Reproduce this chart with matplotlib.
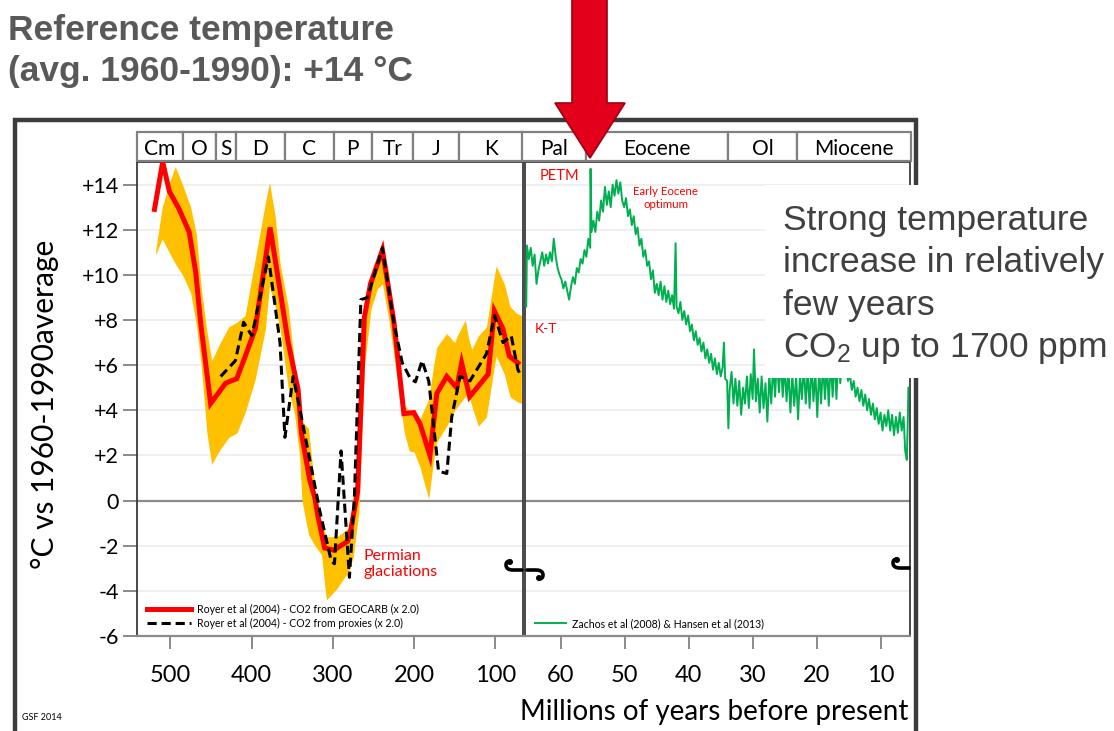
import matplotlib
matplotlib.use("Agg")
import matplotlib.pyplot as plt
from matplotlib.patches import Rectangle, Polygon, PathPatch, Ellipse
from matplotlib.path import Path

plt.rcParams['font.family'] = ['Lato', 'DejaVu Sans']
plt.rcParams['mathtext.fontset'] = 'custom'
plt.rcParams['mathtext.rm'] = 'Liberation Sans'

# ---------------- data ----------------
# Royer et al (2004) - GEOCARB (red)
geocarb_age = [519.5, 509.4, 501.2, 489, 476.8, 468.7, 462.6, 450.4, 432, 418.3, 407.7, 395.5,
               377.2, 354.9, 342.7, 338.7, 328.4, 322.3, 318.3, 310.1, 298.8, 281.7, 278, 269.5,
               261.3, 253.7, 239, 224.8, 212.6, 200.4, 192.7, 180.5, 172, 159.8, 147.6, 141.5,
               131.7, 108.9, 101.2, 90.6, 82.9, 72.3]
geocarb_temp = [12.9, 15.0, 13.7, 12.9, 11.9, 10.1, 7.85, 4.3, 5.2, 5.4, 6.4, 7.6,
                12.1, 7.0, 4.9, 3.0, 0.9, 0.15, -0.7, -2.1, -2.2, -1.8, -1.3, 0.4,
                8.1, 9.6, 11.1, 7.9, 3.85, 3.9, 3.4, 2.0, 4.75, 5.5, 5.0, 6.1,
                4.6, 5.6, 8.4, 7.6, 6.4, 6.1]

# Royer et al (2004) - proxies (black dashed)
proxy_age = [438, 419.9, 409.8, 399.6, 379.3, 365, 359, 348.8, 338.7, 330.5, 316.2, 302, 298,
             289.9, 279.6, 273.5, 265.5, 257.3, 239, 224.8, 214.6, 204.5, 198.4, 190.2, 182,
             169.9, 159.8, 153.7, 143.5, 131.3, 111, 100.9, 90.6, 80.5, 72.3, 68]
proxy_temp = [5.5, 6.2, 7.9, 7.3, 10.8, 7.0, 2.8, 5.5, 3.7, 2.2, -0.44, -2.67, -2.8,
              2.2, -3.4, 0.15, 8.9, 9.0, 11.2, 7.85, 6.1, 5.4, 5.26, 6.2, 5.3,
              1.3, 1.2, 3.7, 5.5, 5.3, 6.5, 8.2, 7.0, 7.3, 5.8, 5.5]

# Uncertainty band (orange)
band_age = [518, 510, 500, 494, 485, 475, 468, 462, 455, 449, 440, 428, 418, 408, 396, 383, 378,
            371, 365, 355, 347, 341, 338, 330, 322, 314, 308, 295, 280, 275, 268, 261, 253, 245,
            239, 232, 225, 218, 212, 206, 200, 193, 182, 176, 172, 160, 150, 147, 137, 133, 129,
            121, 111, 101, 99, 89, 82, 74, 68]
band_low = [10.9, 11.6, 10.9, 10.5, 10.0, 9.2, 7.8, 6.0, 3.0, 1.6, 2.2, 2.8, 3.0, 3.9, 5.3, 7.6, 9.5,
            8.6, 7.6, 5.0, 3.8, 2.0, 0.0, -1.5, -2.0, -2.4, -4.4, -3.9, -3.1, -2.5, -0.5, 6.0, 8.5, 9.4,
            9.6, 8.2, 6.5, 4.5, 3.0, 2.2, 2.15, 1.5, 0.07, 1.8, 2.6, 3.3, 4.0, 4.15, 4.6, 4.7, 4.2,
            3.3, 3.7, 6.0, 6.4, 5.6, 4.6, 4.4, 4.3]
band_high = [11.1, 13.0, 14.2, 14.8, 14.0, 13.0, 11.8, 9.4, 7.5, 6.2, 6.9, 7.7, 7.9, 8.2, 10.6, 13.2, 14.1,
             12.6, 10.5, 8.6, 6.0, 4.2, 3.5, 3.2, 0.5, -1.0, -1.6, -1.6, -1.2, 0.2, 2.0, 8.6, 10.0, 10.8,
             11.3, 10.2, 8.3, 6.2, 4.2, 4.0, 4.0, 3.6, 4.5, 6.0, 6.8, 7.4, 7.0, 7.3, 8.0, 7.2, 6.7,
             7.3, 7.7, 10.0, 10.4, 9.6, 8.6, 8.3, 8.2]

# Zachos et al (2008) & Hansen et al (2013) (green)
green_age = [65.4, 65.3, 65.0, 64.7, 64.4, 64.1, 63.8, 63.5, 63.2, 62.9, 62.6, 62.3, 62.0, 61.7, 61.4,
             61.1, 60.8, 60.5, 60.2, 59.9, 59.6, 59.3, 59.0, 58.7, 58.4, 58.1, 57.8, 57.5, 57.2, 56.9,
             56.6, 56.3, 56.0, 55.7, 55.4, 55.35, 55.2, 54.9, 54.6, 54.3, 54.0, 53.7, 53.4, 53.1, 52.8,
             52.5, 52.2, 51.9, 51.6, 51.3, 51.0, 50.7, 50.4, 50.1, 49.8, 49.5, 49.2, 48.9, 48.6, 48.3,
             48.0, 47.7, 47.4, 47.1, 46.8, 46.5, 46.2, 45.9, 45.6, 45.3, 45.0, 44.7, 44.4, 44.1, 43.8,
             43.5, 43.2, 42.9, 42.6, 42.3, 42.05, 41.9, 41.6, 41.3, 41.0, 40.7, 40.4, 40.1, 39.8, 39.5,
             39.2, 38.9, 38.6, 38.3, 38.0, 37.7, 37.4, 37.1, 36.8, 36.5, 36.2, 35.9, 35.6, 35.3, 35.0,
             34.7, 34.5, 34.3, 34.0, 33.8, 33.6, 33.3, 33.0, 32.7, 32.4, 32.1, 31.8, 31.5, 31.2, 30.9,
             30.6, 30.3, 30.0, 29.8, 29.5, 29.2, 28.9, 28.6, 28.3, 28.0, 27.7, 27.4, 27.1, 26.8, 26.5,
             26.2, 25.9, 25.6, 25.3, 25.0, 24.7, 24.4, 24.1, 23.8, 23.5, 23.2, 22.9, 22.6, 22.3, 22.0,
             21.7, 21.4, 21.1, 20.8, 20.5, 20.2, 19.9, 19.6, 19.3, 19.0, 18.7, 18.4, 18.1, 17.8, 17.5,
             17.2, 16.9, 16.6, 16.3, 16.0, 15.7, 15.4, 15.1, 14.8, 14.5, 14.2, 13.9, 13.6, 13.3, 13.0,
             12.7, 12.4, 12.1, 11.8, 11.5, 11.2, 10.9, 10.6, 10.3, 10.0, 9.7, 9.4, 9.1, 8.8, 8.5,
             8.2, 7.9, 7.6, 7.3, 7.0, 6.7, 6.4, 6.15, 5.9, 5.75, 5.65]
green_temp = [8.6, 11.3, 10.7, 11.2, 10.4, 10.9, 9.6, 10.2, 10.6, 11.0, 10.4, 10.9, 10.5, 11.0, 10.6,
              11.6, 10.8, 10.3, 10.0, 9.8, 9.4, 9.7, 9.3, 8.9, 9.5, 9.9, 9.6, 10.3, 10.1, 10.7,
              10.5, 11.1, 10.8, 11.6, 11.2, 14.7, 11.9, 12.4, 11.9, 12.8, 12.4, 13.3, 12.8, 13.9, 13.1,
              13.7, 13.0, 14.0, 13.5, 14.2, 13.6, 14.1, 13.3, 13.0, 13.4, 12.6, 12.9, 12.2, 12.6, 11.8,
              12.1, 11.3, 11.6, 10.8, 11.1, 10.4, 10.6, 9.8, 10.2, 9.2, 9.6, 9.1, 9.7, 8.9, 9.5,
              8.8, 9.3, 8.7, 9.1, 8.5, 11.4, 8.6, 8.3, 8.8, 8.0, 8.4, 7.8, 8.2, 7.5, 7.8,
              7.1, 7.5, 6.9, 7.2, 6.6, 7.0, 6.3, 6.7, 6.1, 6.5, 5.8, 6.3, 5.6, 6.1, 5.5,
              5.9, 7.0, 5.4, 5.3, 3.2, 4.9, 5.7, 4.3, 5.4, 4.2, 5.3, 3.8, 5.0, 4.3, 5.5,
              4.1, 5.6, 4.5, 6.7, 4.4, 5.4, 3.9, 5.5, 4.1, 5.2, 3.5, 5.6, 4.3, 6.0, 4.6,
              6.3, 4.8, 6.2, 4.6, 6.0, 4.4, 5.8, 3.9, 5.6, 4.2, 5.5, 3.6, 5.6, 4.5, 6.0,
              4.3, 5.8, 4.1, 6.1, 4.4, 5.7, 3.7, 5.9, 4.3, 6.1, 4.5, 6.0, 4.2, 6.3, 4.6,
              6.4, 4.5, 6.6, 5.2, 6.4, 5.6, 6.2, 5.3, 5.6, 4.9, 5.3, 4.6, 5.0, 4.4, 4.9,
              4.2, 4.7, 4.0, 4.5, 3.8, 4.3, 3.6, 4.1, 3.4, 3.9, 3.1, 3.8, 3.3, 4.0, 3.1,
              3.8, 2.9, 3.7, 3.0, 3.9, 3.1, 3.7, 2.2, 1.8, 3.5, 5.0]

# geological periods (boundaries in Ma) and labels
periods_left = [541, 485, 444, 419, 359, 299, 252, 201, 145, 66]
period_labels_left = ["Cm", "O", "S", "D", "C", "P", "Tr", "J", "K"]
periods_right = [66, 56, 33.9, 23, 5.3]
period_labels_right = ["Pal", "Eocene", "Ol", "Miocene"]

yticks = [14, 12, 10, 8, 6, 4, 2, 0, -2, -4, -6]
ytick_labels = ["+14", "+12", "+10", "+8", "+6", "+4", "+2", "0", "-2", "-4", "-6"]
xticks_left = [500, 400, 300, 200, 100]
xticks_right = [60, 50, 40, 30, 20, 10]

# ---------------- figure ----------------
W, H = 1114, 731
fig = plt.figure(figsize=(W / 100, H / 100), dpi=100)
fig.patch.set_facecolor('white')


def fx(px):
    return px / W


def fy(py):
    return 1 - py / H


TOP, BOT = 162, 636
ax1 = fig.add_axes([fx(137), fy(BOT), fx(523) - fx(137), fy(TOP) - fy(BOT)])
ax2 = fig.add_axes([fx(525), fy(BOT), fx(910) - fx(525), fy(TOP) - fy(BOT)])

RED = '#FF0000'
ORANGE = '#FFC000'
GREEN = '#00B050'

# left panel
ax1.fill_between(band_age, band_low, band_high, color=ORANGE, lw=0, zorder=2)
l_red, = ax1.plot(geocarb_age, geocarb_temp, color=RED, lw=3.6, zorder=3, solid_joinstyle='miter',
                  label="Royer et al (2004) - CO2 from GEOCARB (x 2.0)")
l_blk, = ax1.plot(proxy_age, proxy_temp, color='black', lw=2.2, ls=(0, (3, 1.6)), zorder=4,
                  label="Royer et al (2004) - CO2 from proxies (x 2.0)")
ax1.set_xlim(541, 66)

# right panel
l_grn, = ax2.plot(green_age, green_temp, color=GREEN, lw=1.4, zorder=3,
                  label="Zachos et al (2008) & Hansen et al (2013)")
ax2.set_xlim(65.6, 5.4)

for ax in (ax1, ax2):
    ax.set_ylim(-6, 15)
    ax.set_yticks(yticks)
    ax.yaxis.grid(True, color='#ececec', lw=1.2)
    ax.set_axisbelow(True)
    ax.axhline(0, color='#8a8a8a', lw=1.6, zorder=1.5)
    for s in ('top', 'left', 'right'):
        ax.spines[s].set_color('#3a3a3a')
        ax.spines[s].set_linewidth(1.3)
    ax.spines['bottom'].set_color('#8a8a8a')
    ax.spines['bottom'].set_linewidth(1.6)
    ax.tick_params(axis='x', direction='out', length=9, width=1.4, color='#8a8a8a',
                   labelsize=17, pad=12)

ax1.set_yticklabels(ytick_labels)
ax1.tick_params(axis='y', direction='out', length=10, width=1.4, color='#8a8a8a',
                labelsize=15.5, pad=3)
ax2.tick_params(axis='y', length=0, labelleft=False)
ax1.set_xticks(xticks_left)
ax2.set_xticks(xticks_right)

leg1 = ax1.legend(handles=[l_red, l_blk], loc='lower left', bbox_to_anchor=(0.0, -0.005),
                  frameon=False, fontsize=7.6, handlelength=4.2, handletextpad=0.6,
                  labelspacing=0.25, borderaxespad=0.5)
leg2 = ax2.legend(handles=[l_grn], loc='lower left', bbox_to_anchor=(0.0, -0.005),
                  frameon=False, fontsize=7.6, handlelength=3.0, handletextpad=0.6,
                  borderaxespad=0.5)

# annotations
ax1.text(262, -2.8, "Permian\nglaciations", color=RED, fontsize=11.5, ha='left', va='center',
         linespacing=1.2)
ax2.text(63.3, 14.4, "PETM", color=RED, fontsize=10.5, ha='left', va='center')
ax2.text(43.6, 13.4, "Early Eocene\noptimum", color=RED, fontsize=8.3, ha='center', va='center',
         linespacing=1.3)
ax2.text(64.0, 7.6, "K-T", color=RED, fontsize=10, ha='left', va='center')

# period strip
STRIP_T, STRIP_B = 132, 161
for (bounds, labels, x0, x1, ref) in ((periods_left, period_labels_left, 134, 523, ax1),
                                      (periods_right, period_labels_right, 523, 912, ax2)):
    sax = fig.add_axes([fx(x0), fy(STRIP_B), fx(x1) - fx(x0), fy(STRIP_T) - fy(STRIP_B)])
    lo, hi = ref.get_xlim()
    pos = ref.get_position()
    scale = (hi - lo) / (pos.width * W)
    sax.set_xlim(lo - (pos.x0 * W - x0) * scale, hi + (x1 - (pos.x0 + pos.width) * W) * scale)
    sax.set_ylim(0, 1)
    sax.axis('off')
    for i, lab in enumerate(labels):
        a, b = bounds[i], bounds[i + 1]
        sax.add_patch(Rectangle((b, 0), a - b, 1, facecolor='white', edgecolor='#808080',
                                lw=1.6, clip_on=False))
        sax.text((a + b) / 2, 0.42, lab, ha='center', va='center', fontsize=15, color='black')

# outer frame
fig.add_artist(Rectangle((fx(15), fy(760)), fx(916) - fx(15), fy(120) - fy(760),
                         transform=fig.transFigure, fill=False, ec='#3c3c3c', lw=3.2, zorder=0.5))

# axis texts
fig.text(fx(45), fy(404), "°C vs 1960-1990average", rotation=90, ha='center', va='center',
         fontsize=21.5)
fig.text(fx(908), fy(712), "Millions of years before present", ha='right', va='center',
         fontsize=20)
fig.text(fx(22), fy(718), "GSF 2014", ha='left', va='center', fontsize=6.5)

# title
for i, t in enumerate(["Reference temperature", "(avg. 1960-1990): +14 °C"]):
    fig.text(fx(8), fy(40 + 41 * i), t, fontsize=25.5, fontweight='bold', color='#595959',
             family=['Liberation Sans', 'DejaVu Sans'], ha='left', va='baseline')

# white note box with text
fig.add_artist(Rectangle((fx(765), fy(378)), fx(1114) - fx(765), fy(185) - fy(378),
                         transform=fig.transFigure, facecolor='white', edgecolor='none', zorder=10))
note_lines = ["Strong temperature", "increase in relatively", "few years",
              r"$\mathrm{CO_2}$ up to 1700 ppm"]
for i, t in enumerate(note_lines):
    fig.text(fx(783), fy(230 + 42.3 * i), t, fontsize=25.5, color='#404040',
             family=['Liberation Sans', 'DejaVu Sans'], ha='left', va='baseline', zorder=11)

# red arrow
arrow_px = [(572, -5), (607, -5), (607, 103), (625, 103), (590, 158), (555, 103), (572, 103)]
fig.add_artist(Polygon([(fx(x), fy(y)) for x, y in arrow_px], closed=True,
                       transform=fig.transFigure, facecolor='#E2001A', edgecolor='#A0000F',
                       lw=1.2, zorder=12))


# axis-break symbols
def curl(x, y, direction, down):
    d = direction
    v = 1 if down else -1
    verts = [(x, y), (x + d * 9, y), (x + d * 16, y), (x + d * 16, y + v * 5),
             (x + d * 16, y + v * 9), (x + d * 12, y + v * 9)]
    codes = [Path.MOVETO, Path.LINETO, Path.CURVE3, Path.CURVE3, Path.CURVE3, Path.CURVE3]
    p = Path([(fx(a), fy(b)) for a, b in verts], codes)
    fig.add_artist(PathPatch(p, transform=fig.transFigure, fill=False, ec='black', lw=2.6,
                             capstyle='round', zorder=6))
    fig.add_artist(Ellipse((fx(x + d * 12), fy(y + v * 8)), 6 / W, 6 / H,
                           transform=fig.transFigure, facecolor='black', ec='none', zorder=6))


curl(522, 570, -1, False)
curl(527, 570, +1, True)
curl(909, 568, -1, False)

fig.savefig("out.png", dpi=100, facecolor='white')
